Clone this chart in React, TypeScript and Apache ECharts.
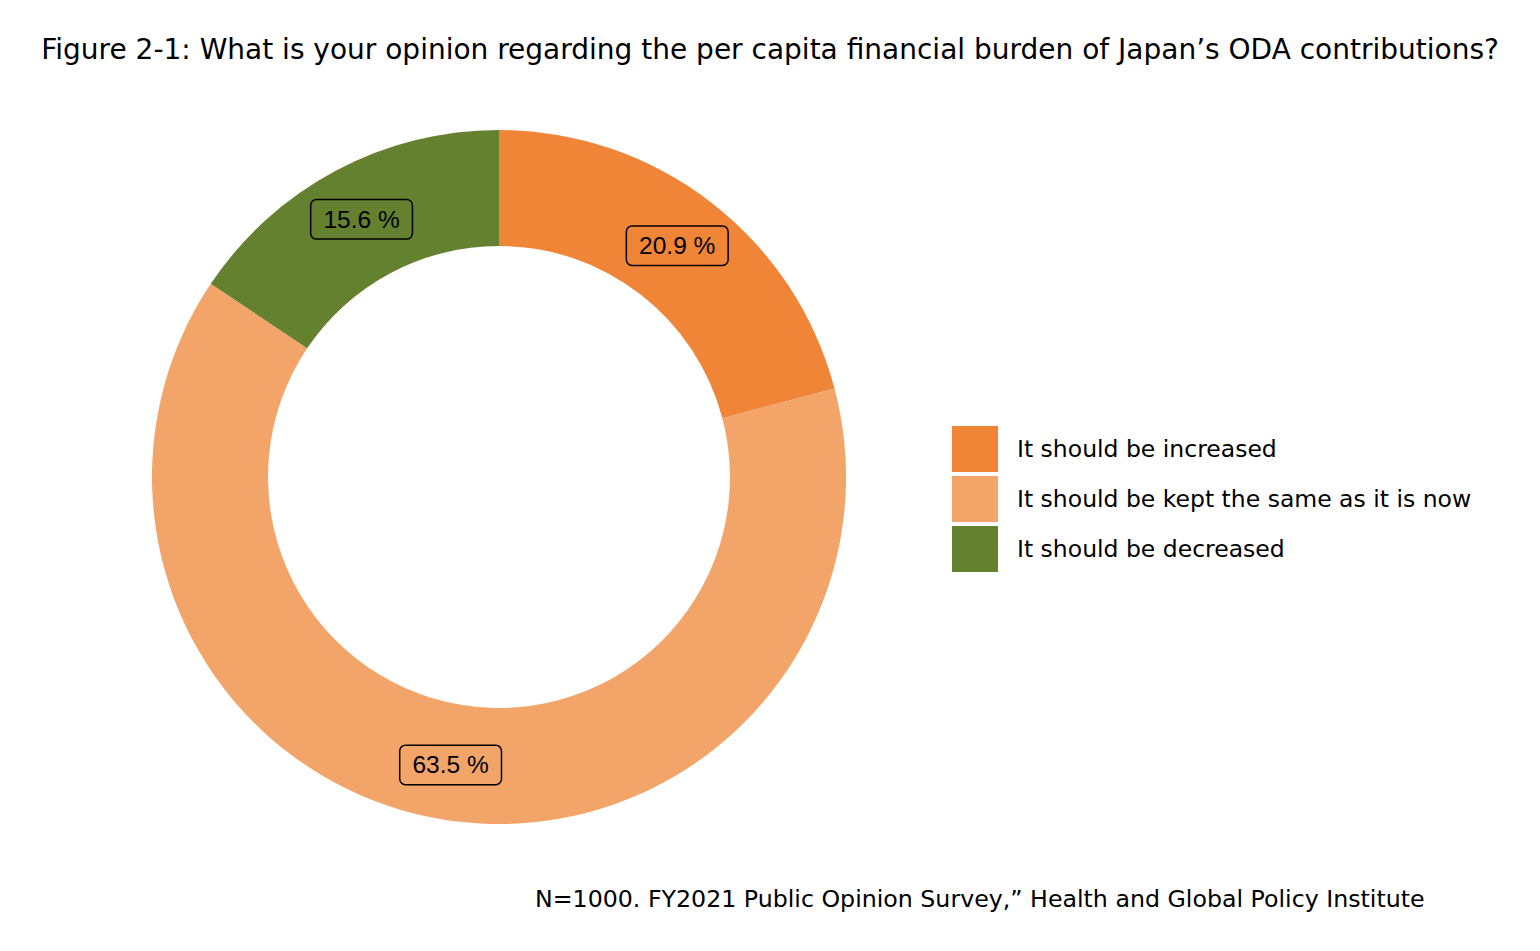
import React, { useEffect, useRef } from "react";
import * as echarts from "echarts";

const titleText =
  "Figure 2-1: What is your opinion regarding the per capita financial burden of Japan\u2019s ODA contributions?";
const sourceText =
  "N=1000. FY2021 Public Opinion Survey,\u201d Health and Global Policy Institute";
const categories = [
  "It should be increased",
  "It should be kept the same as it is now",
  "It should be decreased",
];
const values = [20.9, 63.5, 15.6];
const colors = ["#F08437", "#F3A468", "#64812F"];

const FONT = "'DejaVu Sans', 'Noto Sans', sans-serif";

export default function App() {
  const ref = useRef<HTMLDivElement>(null);
  useEffect(() => {
    document.body.style.margin = "0";
    if (!ref.current) return;
    const chart = echarts.init(ref.current, undefined, { renderer: "svg" });
    chart.setOption({
      animation: false,
      backgroundColor: "#ffffff",
      title: {
        text: titleText,
        left: "center",
        top: 30,
        textStyle: { fontFamily: FONT, fontSize: 28, fontWeight: "normal", color: "#000" },
      },
      legend: {
        orient: "vertical",
        left: 952,
        top: 426,
        padding: 0,
        icon: "rect",
        itemWidth: 46,
        itemHeight: 46,
        itemGap: 4,
        data: categories,
        textStyle: { fontFamily: FONT, fontSize: 23.5, color: "#000", padding: [4, 0, 0, 14] },
      },
      graphic: [
        {
          type: "text",
          left: 535,
          top: 887,
          style: { text: sourceText, font: `23.7px ${FONT}`, fill: "#000" },
        },
      ],
      series: [
        {
          type: "pie",
          center: [499, 477],
          radius: [231, 347],
          startAngle: 90,
          clockwise: true,
          itemStyle: { borderWidth: 0 },
          label: {
            show: true,
            position: "inside",
            formatter: (p: any) => `${p.value.toFixed(1)} %`,
            fontFamily: "'Liberation Sans', Arial, sans-serif",
            fontSize: 24.5,
            lineHeight: 25,
            color: "#000",
            backgroundColor: "inherit",
            borderColor: "#000",
            borderWidth: 1.5,
            borderRadius: 5,
            padding: [7, 12, 6, 12],
          },
          labelLine: { show: false },
          emphasis: { disabled: true },
          data: categories.map((name, i) => ({
            name,
            value: values[i],
            itemStyle: { color: colors[i] },
          })),
        },
      ],
    });
    return () => chart.dispose();
  }, []);
  return <div ref={ref} style={{ width: 1540, height: 951 }} />;
}
